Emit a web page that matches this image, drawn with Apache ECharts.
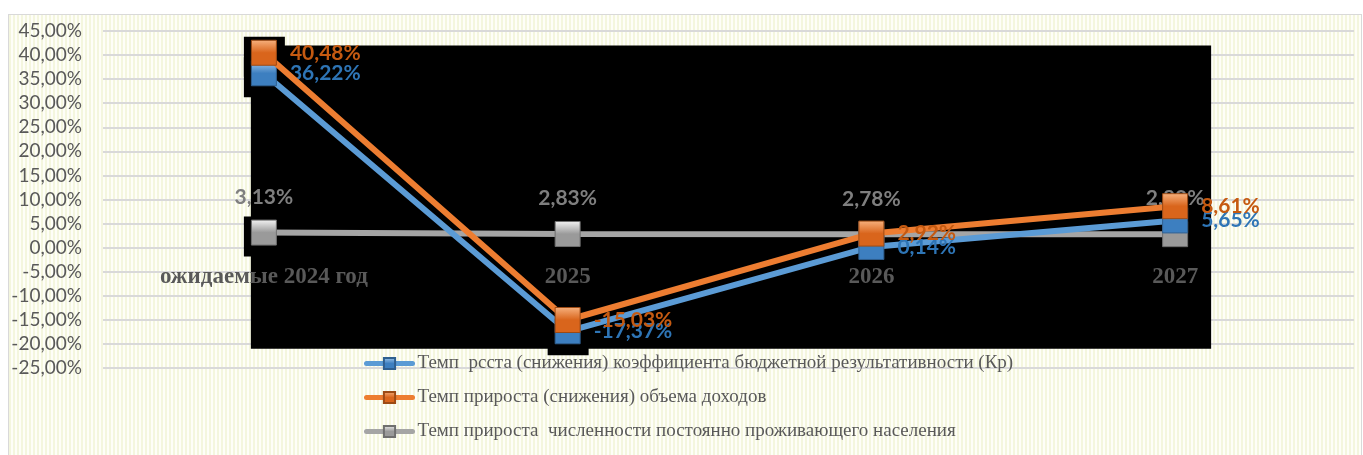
<!DOCTYPE html>
<html><head><meta charset="utf-8">
<script src="https://cdn.jsdelivr.net/npm/echarts@6/dist/echarts.min.js"></script>
<style>
html,body{margin:0;padding:0;background:#fff;overflow:hidden;}
#frame{position:absolute;left:8px;top:14px;width:1352px;height:450px;border:1.5px solid #d9d9d9;
background:repeating-linear-gradient(90deg,#f4f6de 0px,#f4f6de 2px,#fefef8 2px,#fefef8 4px);}
#chart{position:absolute;left:0;top:0;width:1363px;height:455px;}
</style></head><body>
<div id="frame"></div><div id="chart"></div>
<script>
const categories = ['ожидаемые 2024 год', '2025', '2026', '2027'];
const blueValues = [36.22, -17.37, 0.14, 5.65];
const orangeValues = [40.48, -15.03, 2.92, 8.61];
const grayValues = [3.13, 2.83, 2.78, 2.80];
const seriesNames = [
  'Темп  рсста (снижения) коэффициента бюджетной результативности (Кр)',
  'Темп прироста (снижения) объема доходов',
  'Темп прироста  численности постоянно проживающего населения'
];
const yMin = -25, yMax = 45, yStep = 5;

const fmt = v => v.toFixed(2).replace('.', ',') + '%';
const grad = (a, b) => ({type:'linear', x:0, y:0, x2:0, y2:1, colorStops:[{offset:0,color:a},{offset:0.5,color:b},{offset:1,color:b}]});

function mkSeries(name, data, lineColor, fillA, fillB, border, labelColor, pos, z) {
  return {
    name, type:'line', data, xAxisIndex:0, yAxisIndex:0, z,
    symbol:'rect', symbolSize:25,
    lineStyle:{width:6, color:lineColor},
    itemStyle:{color:grad(fillA, fillB), borderColor:border, borderWidth:1},
    label:{show:true, position:pos, distance: pos==='top' ? 12 : 13, formatter:p=>fmt(p.value),
      color:labelColor, fontFamily:'Lato', fontWeight:'bold', fontSize:21},
    emphasis:{disabled:true}, animation:false
  };
}

const chart = echarts.init(document.getElementById('chart'), null, {renderer:'canvas'});
chart.setOption({
  backgroundColor:'transparent',
  animation:false,
  grid:[
    {left:112, right:36, top:31, bottom:87},
    {left:103, right:9, top:31, bottom:87}
  ],
  xAxis:[
    {type:'category', gridIndex:0, data:categories, boundaryGap:true, z:5, offset:0,
     axisLine:{show:false, onZero:false}, axisTick:{show:false},
     axisLabel:{margin:18, color:'#595959', fontFamily:'Liberation Serif', fontWeight:'bold', fontSize:23, interval:0}},
    {type:'category', gridIndex:1, data:categories, show:false}
  ],
  yAxis:[
    {type:'value', gridIndex:0, min:yMin, max:yMax, interval:yStep, show:true,
     axisLine:{show:false}, axisTick:{show:false}, axisLabel:{show:false}, splitLine:{show:false}},
    {type:'value', gridIndex:1, min:yMin, max:yMax, interval:yStep,
     axisLine:{show:false}, axisTick:{show:false},
     axisLabel:{margin:21, formatter:v=>fmt(v), color:'#595959', fontFamily:'Lato', fontSize:19},
     splitLine:{lineStyle:{color:'#d9d9d9', width:2}}}
  ],
  legend:{
    orient:'vertical', left:359, top:349, itemWidth:46, itemHeight:14, itemGap:15,
    selectedMode:false,
    lineStyle:{width:5, cap:'round'},
    textStyle:{color:'#595959', fontFamily:'Liberation Serif', fontSize:19},
    data:seriesNames
  },
  series:[
    mkSeries(seriesNames[0], blueValues, '#5b9bd5', '#a9cdef', '#3d7fc0', '#2f5f8f', '#2e75b6', 'right', 3),
    mkSeries(seriesNames[1], orangeValues, '#ed7d31', '#f7b27f', '#d9651c', '#9c4a14', '#c55a11', 'right', 4),
    mkSeries(seriesNames[2], grayValues, '#a5a5a5', '#f4f4f4', '#9a9a9a', '#6f6f6f', '#7f7f7f', 'top', 2)
  ]
});

const px = (i, v) => chart.convertToPixel({gridIndex:0}, [i, v]);
// category labels sit next to the zero line (as Excel draws them)
const zeroOffset = px(0, 0)[1] - px(0, yMin)[1];

// black backdrop (as in the reference picture), placed through the axes' own scales
const tl = px(0, 42), br = px(categories.length - 1, -21);
const els = [{type:'rect', z:1, silent:true,
  shape:{x:tl[0]-13, y:tl[1], width:(br[0]+36)-(tl[0]-13), height:br[1]-tl[1]},
  style:{fill:'#000'}}];
[blueValues, orangeValues, grayValues].forEach(arr => arr.forEach((v, i) => {
  const p = px(i, v);
  els.push({type:'rect', z:1, silent:true, shape:{x:p[0]-20, y:p[1]-16, width:41, height:40}, style:{fill:'#000'}});
}));
chart.setOption({graphic:els, xAxis:[{offset:zeroOffset}, {}]});
</script>
</body></html>
